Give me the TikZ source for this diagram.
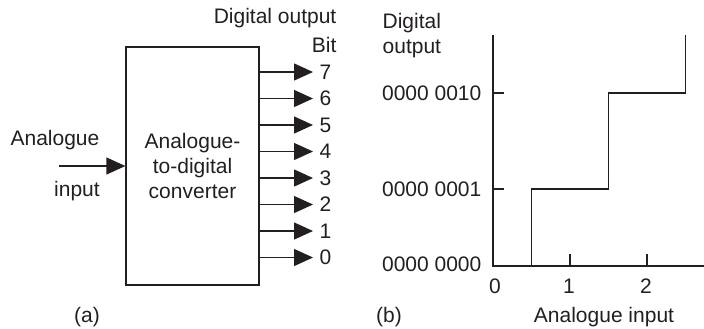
\documentclass[tikz,border=0pt]{standalone}
\usepackage{fontspec}
\setmainfont{Liberation Sans}
\usetikzlibrary{positioning}
\usetikzlibrary{calc}
\usetikzlibrary{arrows.meta}
\definecolor{ink}{RGB}{35,31,32}

\begin{document}
\begin{tikzpicture}[x=0.5pt, y=-0.5pt, line width=0.65pt, ink,
    every node/.style={font=\fontsize{10.5}{12.5}\selectfont, text=ink},
    bigtip/.style={-{Triangle[length=9.5pt, width=8.5pt]}}]
    \useasboundingbox (0,0) rectangle (704,328);
    % (a) the converter
    \node[draw, minimum width=66.5pt, minimum height=119pt, inner sep=0pt, align=center] (adc) at (192.5,166) {Analogue-\\to-digital\\converter};
    \coordinate (in) at (59,166);
    \draw[bigtip] (in) -- (adc.west);
    \node (inlab1) at (55,140) {Analogue};
    \node (inlab2) at (77,191) {input};
    \node[anchor=east, inner sep=0pt] (dout) at (337,18) {Digital output};
    \node[anchor=east, inner sep=0pt] (bit) at (337,45) {Bit};
    \foreach \b [count=\i from 0] in {7,6,5,4,3,2,1,0} {
        \node[anchor=west, inner sep=3pt] (bit\b) at (313,72+26.5*\i) {\b};
        \draw[bigtip] (adc.east |- bit\b.west) -- (bit\b.west);
    }
    \node (capa) at (87,317) {(a)};
    % (b) the staircase
    \coordinate (org) at (493,266);
    \coordinate (ytop) at (493,35);
    \coordinate (xend) at (704,266);
    \draw (ytop) -- (org) -- (xend);
    \draw (org) -- (531.5,266) -- (531.5,189) -- (608.5,189) -- (608.5,93) -- (685.5,93) -- (685.5,35);
    \draw (570,266) -- (570,254);
    \draw (647,266) -- (647,254);
    \draw (493,189) -- (504,189);
    \draw (493,93) -- (504,93);
    \node[anchor=east, inner sep=0pt] (q2) at (482,93) {0000 0010};
    \node[anchor=east, inner sep=0pt] (q1) at (482,189) {0000 0001};
    \node[anchor=east, inner sep=0pt] (q0) at (482,264) {0000 0000};
    \node[anchor=west, inner sep=0pt, align=left] (dlab) at (382,36) {Digital\\output};
    \node (x0) at (495,286) {0};
    \node (x1) at (569,286) {1};
    \node (x2) at (646,286) {2};
    \node (capb) at (389,317) {(b)};
    \node (alab) at (604,317) {Analogue input};
\end{tikzpicture}
\end{document}
